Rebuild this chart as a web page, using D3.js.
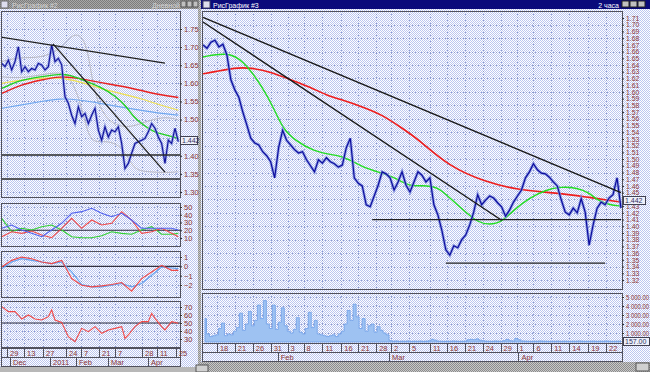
<!DOCTYPE html>
<html><head><meta charset="utf-8">
<script src="https://cdn.jsdelivr.net/npm/d3@7"></script>
<style>
body{margin:0;background:#c0c0c0;overflow:hidden}
text{font-family:Arial,"Liberation Sans",sans-serif}
</style>
</head><body><div id="chart"></div>
<script>
// ---- right window: 2-hour closes (bar index 0..105)
const rightClose=[1.670,1.665,1.674,1.677,1.667,1.671,1.655,1.618,1.603,1.592,
 1.570,1.551,1.531,1.524,1.521,1.511,1.505,1.496,1.472,1.517,
 1.543,1.528,1.521,1.514,1.509,1.511,1.499,1.490,1.481,1.499,
 1.494,1.502,1.496,1.493,1.488,1.491,1.517,1.531,1.472,1.464,
 1.460,1.432,1.429,1.445,1.461,1.481,1.478,1.472,1.454,1.466,
 1.481,1.461,1.451,1.466,1.481,1.476,1.466,1.472,1.432,1.417,
 1.394,1.365,1.357,1.371,1.368,1.380,1.387,1.402,1.421,1.447,
 1.432,1.439,1.445,1.442,1.435,1.429,1.415,1.424,1.436,1.445,
 1.454,1.472,1.481,1.493,1.484,1.479,1.478,1.473,1.466,1.460,
 1.439,1.421,1.417,1.427,1.420,1.441,1.421,1.372,1.402,1.427,
 1.436,1.432,1.442,1.447,1.472,1.427]
const rightFastMA=[[0,1.652],[6,1.659],[10,1.648],[15,1.607],[18,1.573],[20,1.546],[23,1.528],[28,1.511],[33,1.506],[36,1.502],[40,1.488],[45,1.479],[48,1.473],[52,1.459],[55,1.461],[59,1.459],[62,1.442],[66,1.421],[69,1.406],[72,1.402],[75,1.406],[78,1.424],[82,1.442],[86,1.454],[90,1.459],[94,1.457],[97,1.450],[99,1.439],[102,1.432],[105,1.430]]
const rightSlowMA=[[0,1.627],[3,1.630],[8,1.636],[12,1.636],[17,1.630],[22,1.618],[27,1.607],[31,1.595],[35,1.588],[40,1.578],[45,1.566],[50,1.546],[54,1.530],[62,1.488],[71,1.466],[79,1.454],[88,1.450],[96,1.444],[105,1.436]]
const rightTrends=[[[0,1.711],[105,1.450]],[[0,1.704],[75,1.409]]]
const rightLevels=[[42.5,105,1.41],[61,101,1.345]]
const volume=[2600,900,600,700,800,1500,2100,700,900,800,
 1200,1600,3200,1300,2000,3400,1800,2400,4100,2600,
 4600,2000,1500,4100,1400,2200,3800,1800,1200,1000,
 1400,2700,1100,900,1500,3300,1600,2400,900,800,
 700,600,700,800,600,900,1200,2000,3500,2400,
 4200,2800,1500,2600,1200,1800,2000,1100,1700,1300,
 1000,800,
 150,100,120,80,100,90,120,80,100,90,
 110,80,100,140,300,200,100,90,80,100,
 90,120,100,80,90,110,250,300,260,350,
 200,150,100,90,80,120,100,90,150,300,
 150,120,400,250,120,100,90,80,100,90,
 120,100,90,80,100,90,110,80,100,90,
 80,100,90,120,100,80,90,100,110,80,
 100,90,120,100,80,90,100,110]
const rightPriceTicks=[1.32,1.33,1.34,1.35,1.36,1.37,1.38,1.39,1.40,1.41,1.42,1.43,1.44,1.45,1.46,1.47,1.48,1.49,1.50,1.51,1.52,1.53,1.54,1.55,1.56,1.57,1.58,1.59,1.60,1.61,1.62,1.63,1.64,1.65,1.66,1.67,1.68,1.69,1.70,1.71]
const volTicks=[1000,2000,3000,4000,5000]
const rightDays=['18','21','26','31','3','8','11','16','21','28','2','5','11','16','21','24','29','1','6','11','14','19','22']
const rightDayAt=[3.5,8,12.5,17,21.25,25.25,30,34.75,39,43.5,47.25,51.75,57,61.25,65.75,70.25,74.75,78.75,83,87.5,92,96.75,101.25]
const rightMonths=['Feb','Mar','Apr']
const rightMonthAt=[18.75,46.75,79.25]
const lastPrice='1.442', lastVolume='157.00'

// ---- left window: daily
const leftClose=[1.655,1.646,1.664,1.637,1.660,1.701,1.632,1.646,1.632,1.641,
 1.637,1.655,1.651,1.637,1.646,1.706,1.660,1.669,1.651,1.563,
 1.545,1.512,1.489,1.535,1.508,1.517,1.489,1.512,1.531,1.471,
 1.443,1.480,1.452,1.471,1.466,1.480,1.434,1.365,1.379,1.407,
 1.434,1.439,1.443,1.448,1.466,1.489,1.476,1.452,1.434,1.379,
 1.443,1.434,1.476,1.439]
const leftGreen=[[0,1.586],[5.5,1.609],[11.5,1.618],[17.5,1.626],[20.5,1.623],[24.5,1.609],[29.5,1.591],[34.5,1.563],[37.5,1.535],[39.5,1.508],[42.5,1.485],[45.5,1.466],[49.5,1.457],[53,1.448]]
const leftRed=[[0,1.572],[5.5,1.595],[11.5,1.609],[17.5,1.620],[23.5,1.614],[29.5,1.602],[35.5,1.593],[41.5,1.581],[47.5,1.568],[53,1.561]]
const leftYellow=[[0,1.600],[5.5,1.609],[11.5,1.614],[17.5,1.617],[23.5,1.604],[29.5,1.586],[35.5,1.572],[41.5,1.559],[47.5,1.540],[53,1.526]]
const leftBlue=[[0,1.531],[5.5,1.540],[11.5,1.549],[17.5,1.559],[23.5,1.554],[29.5,1.545],[35.5,1.535],[41.5,1.526],[47.5,1.517],[53,1.512]]
const bandUpper=[[0,1.660],[5.5,1.673],[11.5,1.669],[17.5,1.692],[20.5,1.729],[23,1.738],[25.5,1.710],[27,1.618],[28.5,1.554],[31.5,1.499],[35.5,1.480],[39.5,1.480],[44.5,1.499],[49.5,1.508],[53,1.499]]
const bandLower=[[0,1.618],[5.5,1.614],[11.5,1.623],[17.5,1.632],[20.5,1.618],[23.5,1.554],[25.5,1.471],[27.5,1.434],[31.5,1.443],[36.5,1.425],[39.5,1.361],[43.5,1.356],[49.5,1.353],[53,1.356]]
const leftTrends=[[[-0.5,1.728],[49,1.656]],[[15.4,1.709],[49,1.355]]]
const leftLevels=[1.402,1.336]
const leftPriceTicks=[1.30,1.35,1.40,1.45,1.50,1.55,1.60,1.65,1.70,1.75]
const indAt=[0,3,6,9,12,15,18,21,24,27,30,33,36,39,42,45,48,51,53]
const adxPlus=[22.5,26.8,20.3,16.0,11.7,20.3,29,41.9,44,48.3,41.9,37.5,41.9,33.2,22.5,22.5,22.5,22.5,20.3]
const adxMinus=[11.7,18.1,16.0,19.0,13.9,10.4,22.5,35.4,22.5,33.2,26.8,29,44,33.2,16.0,18.1,22.5,16.0,11.7]
const adxLine=[35.4,18.1,22.5,20.3,24.6,26.8,20.3,11.7,10.4,10.4,13.0,18.1,16.0,14.8,20.3,24.6,14.8,14.8,16.0]
const macdFast=[-0.07,0.64,0.99,0.82,0.46,0.29,0.64,-1.31,-2.02,-2.20,-2.09,-1.95,-1.74,-2.66,-1.31,-0.60,0.11,-0.43,-0.43]
const macdSlow=[-0.25,0.46,0.82,0.64,0.46,0.29,0.46,-0.60,-1.95,-2.20,-2.20,-2.02,-1.84,-2.20,-1.84,-0.96,-0.07,-0.18,-0.25]
const rsi=[[0,70.4],[2,64.2],[4,64.2],[5,60],[6,55],[8,60],[10,55],[12,53.8],[14,57.9],[15,66.3],[16,53.8],[18,50.8],[20,32.9],[22,26.7],[23,35],[24,43.3],[26,39.2],[28,45.4],[30,37.1],[32,41.3],[34,43.3],[36,45.4],[37,30.8],[38,35],[40,45.4],[42,51.7],[44,51.7],[45,62.1],[46,55.8],[48,45.4],[49,41.3],[51,51.7],[53,49.6]]
const adxTicks=[10,20,30,40,50]
const macdTicks=[-2,-1,0,1]
const rsiTicks=[30,40,50,60,70]
const leftDays=['29','13','27','24','7','21','7','28','11','25']
const leftDayAt=[1.6,6.7,12.4,19.3,23.8,29.2,34,42.1,46.6,52.3]
const leftMonths=['Dec','2011','Feb','Mar','Apr']
const leftMonthAt=[2.5,14.5,22.3,31.9,43.9]

const labelColor='#8a3434', frameColor='#50505c', gridColor='#8c9acc'

const svg=d3.select('#chart').append('svg').attr('width',650).attr('height',372)
const defs=svg.append('defs')
function checker(id,a,b){
	const p=defs.append('pattern').attr('id',id).attr('width',2).attr('height',2).attr('patternUnits','userSpaceOnUse')
	p.append('rect').attr('width',2).attr('height',2).attr('fill',a)
	p.append('rect').attr('width',1).attr('height',1).attr('fill',b)
	p.append('rect').attr('x',1).attr('y',1).attr('width',1).attr('height',1).attr('fill',b)
}
checker('blue','#ffffff','#bcc6f0')
checker('gray','#c8c8c8','#8c8c8c')
checker('ttl','#a8a8a8','#7c7c7c')
function clip(id,x,y,w,h){
	defs.append('clipPath').attr('id',id).append('rect').attr('x',x).attr('y',y).attr('width',w).attr('height',h)
}
clip('cL',1,11,179,186)
clip('cR',202,11,420,278)
clip('cV',202,293,420,50)

svg.append('rect').attr('width',650).attr('height',372).attr('fill','url(#gray)')
svg.append('rect').attr('x',0).attr('y',9).attr('width',198).attr('height',358).attr('fill','url(#blue)')
svg.append('rect').attr('x',201).attr('y',9).attr('width',449).attr('height',353).attr('fill','url(#blue)')

// title bars
svg.append('rect').attr('x',0).attr('y',0).attr('width',198).attr('height',9).attr('fill','url(#ttl)')
svg.append('rect').attr('x',201).attr('y',0).attr('width',449).attr('height',9).attr('fill','#0a0a7a')
svg.append('rect').attr('x',1).attr('y',1).attr('width',7).attr('height',7).attr('fill','#dde').attr('stroke','#666')
svg.append('rect').attr('x',203).attr('y',1).attr('width',7).attr('height',7).attr('fill','#dde').attr('stroke','#446')
svg.append('text').attr('x',12).attr('y',7.5).attr('font-size',7).attr('fill','#d4d4d4').text('РисГрафик #2')
svg.append('text').attr('x',213).attr('y',7.5).attr('font-size',7).attr('fill','#ffffff').text('РисГрафик #3')
svg.append('text').attr('x',180).attr('y',7.5).attr('font-size',7).attr('fill','#d4d4d4').attr('text-anchor','end').text('Дневной')
svg.append('text').attr('x',619).attr('y',7.5).attr('font-size',7).attr('fill','#ffffff').attr('text-anchor','end').text('2 часа')
;[182,188,194].forEach(x=>svg.append('rect').attr('x',x-1).attr('y',1).attr('width',5).attr('height',6).attr('fill','#c0c0c0').attr('stroke','#555'))
;[622,630,638].forEach(x=>svg.append('rect').attr('x',x).attr('y',1).attr('width',7).attr('height',6).attr('fill','#c0c0c0').attr('stroke','#222'))

function frame(x,y,w,h){
	svg.append('rect').attr('x',x+.5).attr('y',y+.5).attr('width',w).attr('height',h)
		.attr('fill','none').attr('stroke',frameColor).attr('shape-rendering','crispEdges')
}
function hGrid(g,values,scale,x0,x1){
	g.selectAll(null).data(values).enter().append('line')
		.attr('x1',x0).attr('x2',x1).attr('y1',d=>Math.round(scale(d))+.5).attr('y2',d=>Math.round(scale(d))+.5)
		.attr('stroke',gridColor).attr('stroke-dasharray','1,2')
}
function vGrid(g,values,scale,y0,y1){
	g.selectAll(null).data(values).enter().append('line')
		.attr('y1',y0).attr('y2',y1).attr('x1',d=>Math.round(scale(d))+.5).attr('x2',d=>Math.round(scale(d))+.5)
		.attr('stroke',gridColor).attr('stroke-dasharray','1,2')
}
function path(g,data,x,y,color,w,curve){
	return g.append('path').datum(data).attr('fill','none').attr('stroke',color).attr('stroke-width',w)
		.attr('d',d3.line().x(d=>x(d[0])).y(d=>y(d[1])).curve(curve||d3.curveLinear))
}
function yAxis(scale,x,values,fmt,size,fit){
	const a=svg.append('g').attr('transform',`translate(${x},0)`)
		.call(d3.axisRight(scale).tickValues(values).tickFormat(fmt).tickSize(2).tickPadding(2))
	a.select('.domain').attr('stroke',frameColor)
	a.selectAll('line').attr('stroke','#303030')
	const t=a.selectAll('text').attr('fill',labelColor).attr('font-size',size).attr('font-family','Arial,"Liberation Sans",sans-serif')
	if(fit) t.attr('textLength',fit).attr('lengthAdjust','spacingAndGlyphs')
}
function labelBox(x,y,w,txt){
	svg.append('rect').attr('x',x+.5).attr('y',y+.5).attr('width',w).attr('height',8).attr('fill','#eef0fa').attr('stroke','#404050')
	svg.append('text').attr('x',x+2).attr('y',y+7).attr('font-size',7).attr('fill','#303060').text(txt)
}
function xAxisRows(scale,x0,x1,y0,days,dayAt,months,monthAt){
	const g=svg.append('g')
	g.append('rect').attr('x',x0+.5).attr('y',y0+.5).attr('width',x1-x0).attr('height',9).attr('fill','none').attr('stroke',frameColor)
	g.append('rect').attr('x',x0+.5).attr('y',y0+9.5).attr('width',x1-x0).attr('height',9).attr('fill','none').attr('stroke',frameColor)
	g.selectAll(null).data(dayAt).enter().append('line')
		.attr('x1',d=>Math.round(scale(d))+.5).attr('x2',d=>Math.round(scale(d))+.5).attr('y1',y0).attr('y2',y0+9).attr('stroke',frameColor)
	g.selectAll(null).data(dayAt).enter().append('text')
		.attr('x',d=>scale(d)+3).attr('y',y0+7.5).attr('font-size',7.5).attr('fill',labelColor).text((d,i)=>days[i])
	g.selectAll(null).data(monthAt).enter().append('line')
		.attr('x1',d=>Math.round(scale(d))+.5).attr('x2',d=>Math.round(scale(d))+.5).attr('y1',y0+9).attr('y2',y0+18).attr('stroke',frameColor)
	g.selectAll(null).data(monthAt).enter().append('text')
		.attr('x',d=>scale(d)+3).attr('y',y0+16.5).attr('font-size',7.5).attr('fill',labelColor).text((d,i)=>months[i])
}

// ================= LEFT WINDOW =================
const leftX=d3.scaleLinear().domain([0,53]).range([1.7,178.3])
const leftY=d3.scaleLinear().domain([1.30,1.75]).range([192,29])
const adxY=d3.scaleLinear().domain([10,50]).range([238,207])
const macdY=d3.scaleLinear().domain([-2,1]).range([285,257])
const rsiY=d3.scaleLinear().domain([30,70]).range([339,307])

const lg=svg.append('g').attr('clip-path','url(#cL)')
hGrid(lg,leftPriceTicks,leftY,1,180)
vGrid(lg,leftDayAt,leftX,11,197)
path(lg,bandUpper,leftX,leftY,'#b8b8c4',1,d3.curveBasis)
path(lg,bandLower,leftX,leftY,'#b8b8c4',1,d3.curveBasis)
path(lg,leftBlue,leftX,leftY,'#70a8f0',1.2,d3.curveBasis)
path(lg,leftYellow,leftX,leftY,'#f0e050',1.2,d3.curveBasis)
path(lg,leftRed,leftX,leftY,'#e82020',1.4,d3.curveBasis)
path(lg,leftGreen,leftX,leftY,'#20d020',1.4,d3.curveBasis)
const leftPts=leftClose.map((v,i)=>[i,v])
path(lg,leftPts,leftX,leftY,'#8090e0',2.8).attr('opacity',.7)
path(lg,leftPts,leftX,leftY,'#10109a',1.1)
leftTrends.forEach(t=>path(lg,t,leftX,leftY,'#202020',1.3))
lg.selectAll(null).data(leftLevels).enter().append('line')
	.attr('x1',1).attr('x2',180).attr('y1',d=>leftY(d)).attr('y2',d=>leftY(d))
	.attr('stroke','#282828').attr('stroke-width',1.6)
frame(1,11,179,186)
// the last-price box hides the 1.45 label, as in the terminal
yAxis(leftY,180,leftPriceTicks.filter(d=>d!=1.45),d3.format('.2f'),7.5)
labelBox(180,136,17,lastPrice)

function subPanel(scale,y0,h,ticks,level,series,colors){
	const g=svg.append('g')
	hGrid(g,ticks,scale,1,180)
	vGrid(g,leftDayAt,leftX,y0,y0+h)
	g.append('line').attr('x1',1).attr('x2',180).attr('y1',scale(level)).attr('y2',scale(level)).attr('stroke','#303040').attr('stroke-width',1.2)
	series.forEach((s,k)=>path(g,s,leftX,scale,colors[k],1.1))
	frame(1,y0,179,h)
	yAxis(scale,180,ticks,d3.format('d'),7.5)
}
const zipInd=a=>a.map((v,i)=>[indAt[i],v])
subPanel(adxY,203,43,adxTicks,20,[zipInd(adxLine),zipInd(adxMinus),zipInd(adxPlus)],['#30d030','#f04848','#5060f0'])
subPanel(macdY,251,46,macdTicks,0,[zipInd(macdSlow),zipInd(macdFast)],['#60a0f0','#f04848'])
subPanel(rsiY,301,46,rsiTicks,50,[rsi],['#f04848'])
xAxisRows(leftX,1,180,348,leftDays,leftDayAt,leftMonths,leftMonthAt)

// ================= RIGHT WINDOW =================
const rightX=d3.scaleLinear().domain([0,105]).range([203,621])
const rightY=d3.scaleLinear().domain([1.32,1.71]).range([280,18])
const volX=d3.scaleLinear().domain([0,139]).range([205,621])
const volY=d3.scaleLinear().domain([0,5000]).range([342,297])

const rg=svg.append('g').attr('clip-path','url(#cR)')
hGrid(rg,rightPriceTicks.filter((d,i)=>i%2==0),rightY,202,622)
vGrid(rg,rightDayAt,rightX,11,289)
path(rg,rightSlowMA,rightX,rightY,'#ee1c1c',1.6,d3.curveBasis)
path(rg,rightFastMA,rightX,rightY,'#22dd22',1.4,d3.curveBasis)
const rightPts=rightClose.map((v,i)=>[i,v])
path(rg,rightPts,rightX,rightY,'#7c8ce0',3).attr('opacity',.75)
path(rg,rightPts,rightX,rightY,'#0c0c9c',1.2)
rightTrends.forEach(t=>path(rg,t,rightX,rightY,'#181818',1.4))
rg.selectAll(null).data(rightLevels).enter().append('line')
	.attr('x1',d=>rightX(d[0])).attr('x2',d=>rightX(d[1])).attr('y1',d=>rightY(d[2])).attr('y2',d=>rightY(d[2]))
	.attr('stroke','#202020').attr('stroke-width',1.3)
frame(202,11,420,278)
yAxis(rightY,622,rightPriceTicks.filter(d=>d!=1.44),d3.format('.2f'),6.8)
labelBox(623,196,22,lastPrice)

const vg=svg.append('g').attr('clip-path','url(#cV)')
hGrid(vg,volTicks,volY,202,622)
vGrid(vg,rightDayAt,rightX,293,343)
vg.append('path').datum(volume).attr('fill','#9ec2f2').attr('stroke','#6c9ee8').attr('stroke-width',.8)
	.attr('d',d3.area().x((d,i)=>volX(i)).y0(volY(0)).y1(d=>volY(d)).curve(d3.curveStep))
frame(202,293,420,50)
yAxis(volY,622,volTicks,d=>d3.format(',')(d).replace(',',' ')+'.00',6.5,23)
labelBox(623,337,26,lastVolume)
xAxisRows(rightX,202,622,343,rightDays,rightDayAt,rightMonths,rightMonthAt)

// bottom scroll strips
svg.append('rect').attr('x',0).attr('y',367).attr('width',198).attr('height',5).attr('fill','#b8b8b8')
svg.append('rect').attr('x',201).attr('y',362).attr('width',449).attr('height',10).attr('fill','url(#gray)')
svg.append('rect').attr('x',196).attr('y',365).attr('width',12).attr('height',7).attr('fill','#d0d0d0').attr('stroke','#555')
svg.append('rect').attr('x',636).attr('y',363).attr('width',13).attr('height',8).attr('fill','#d0d0d0').attr('stroke','#555')
</script></body></html>
